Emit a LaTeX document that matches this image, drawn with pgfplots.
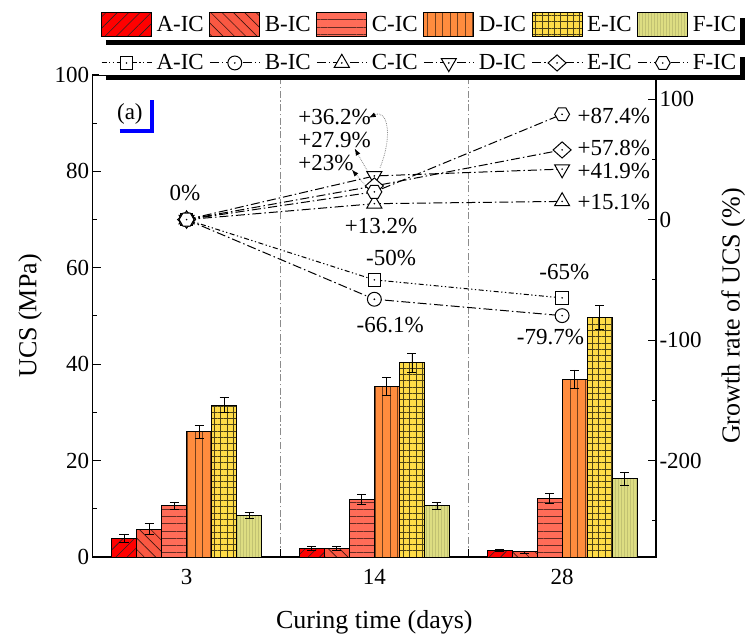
\documentclass[border=0pt]{standalone}
\usepackage{fontspec}
\setmainfont{Liberation Serif}
\usepackage{pgfplots}
\usepackage{pgfplotstable}
\pgfplotsset{compat=1.18}
\usetikzlibrary{patterns,patterns.meta,arrows.meta}

\definecolor{cA}{RGB}{255,0,0}
\definecolor{cB}{RGB}{250,88,66}
\definecolor{cC}{RGB}{255,108,88}
\definecolor{cD}{RGB}{255,140,62}
\definecolor{cE}{RGB}{255,220,72}
\definecolor{cF}{RGB}{221,221,130}

\newcommand\markdot{\begin{pgfscope}\pgfsetfillcolor{black}\pgfpathcircle{\pgfpointorigin}{0.9bp}\pgfusepathqfill\end{pgfscope}}
\pgfdeclareplotmark{dsq}{%
  \pgfpathrectangle{\pgfpoint{-\pgfplotmarksize}{-\pgfplotmarksize}}{\pgfpoint{2\pgfplotmarksize}{2\pgfplotmarksize}}%
  \pgfusepathqfillstroke\markdot}
\pgfdeclareplotmark{dcirc}{%
  \pgfpathcircle{\pgfpointorigin}{1.12\pgfplotmarksize}%
  \pgfusepathqfillstroke\markdot}
\pgfdeclareplotmark{dtri}{%
  \pgfpathmoveto{\pgfpointpolar{90}{1.4\pgfplotmarksize}}%
  \pgfpathlineto{\pgfpointpolar{210}{1.4\pgfplotmarksize}}%
  \pgfpathlineto{\pgfpointpolar{330}{1.4\pgfplotmarksize}}%
  \pgfpathclose\pgfusepathqfillstroke\markdot}
\pgfdeclareplotmark{dtrid}{%
  \pgfpathmoveto{\pgfpointpolar{270}{1.4\pgfplotmarksize}}%
  \pgfpathlineto{\pgfpointpolar{30}{1.4\pgfplotmarksize}}%
  \pgfpathlineto{\pgfpointpolar{150}{1.4\pgfplotmarksize}}%
  \pgfpathclose\pgfusepathqfillstroke\markdot}
\pgfdeclareplotmark{ddia}{%
  \pgfpathmoveto{\pgfpoint{1.45\pgfplotmarksize}{0pt}}%
  \pgfpathlineto{\pgfpoint{0pt}{1.3\pgfplotmarksize}}%
  \pgfpathlineto{\pgfpoint{-1.45\pgfplotmarksize}{0pt}}%
  \pgfpathlineto{\pgfpoint{0pt}{-1.3\pgfplotmarksize}}%
  \pgfpathclose\pgfusepathqfillstroke\markdot}
\pgfdeclareplotmark{dhex}{%
  \pgfpathmoveto{\pgfpointpolar{0}{1.2\pgfplotmarksize}}%
  \pgfpathlineto{\pgfpointpolar{60}{1.2\pgfplotmarksize}}%
  \pgfpathlineto{\pgfpointpolar{120}{1.2\pgfplotmarksize}}%
  \pgfpathlineto{\pgfpointpolar{180}{1.2\pgfplotmarksize}}%
  \pgfpathlineto{\pgfpointpolar{240}{1.2\pgfplotmarksize}}%
  \pgfpathlineto{\pgfpointpolar{300}{1.2\pgfplotmarksize}}%
  \pgfpathclose\pgfusepathqfillstroke\markdot}

% bar positions: group centre 1,2,3; six bars of width 0.1333
\pgfplotstableread{
xA xB xC xD xE xF A Aerr B Berr C Cerr D Derr E Eerr F Ferr
0.6667 0.8 0.9333 1.0667 1.2 1.3333 3.9 0.85 5.8 1.1 10.6 0.8 26.0 1.3 31.5 1.6 8.7 0.6
1.6667 1.8 1.9333 2.0667 2.2 2.3333 1.8 0.35 1.8 0.35 12.0 1.0 35.4 1.8 40.3 2.0 10.6 0.8
2.6667 2.8 2.9333 3.0667 3.2 3.3333 1.3 0.2 1.05 0.2 12.2 1.0 36.9 1.9 49.7 2.4 16.2 1.3
}\bardata

\newcommand\fsN{\fontsize{23bp}{27bp}\selectfont}
\newcommand\fsL{\fontsize{26bp}{30bp}\selectfont}

\pgfplotsset{
  errstyle/.style={error bars/.cd, y dir=both, y explicit,
    error bar style={line width=0.8bp, black, solid},
    error mark options={rotate=90, mark size=4.5bp, line width=0.8bp, black}},
  barsty/.style={ybar, bar width=0.1333, bar shift=0, draw=black, line width=1bp},
  linesty/.style={black, line width=1bp, dash pattern=on 9bp off 3bp on 1.5bp off 3bp},
  mk/.style={mark size=6.2bp, mark options={solid, fill=white, line width=1bp}},
}

\begin{document}
\begin{tikzpicture}
\path[use as bounding box] (-92.7bp,-82bp) rectangle (656.3bp,557bp);
\begin{axis}[
  at={(0,0)}, anchor=south west,
  scale only axis, width=563.3bp, height=482bp,
  xmin=0.5, xmax=3.5, ymin=0, ymax=100,
  font=\fsN,
  /pgf/number format/assume math mode=true,
  axis line style={line width=1.2bp},
  tick style={line width=1bp, black},
  major tick length=8bp, minor tick length=4.5bp,
  xtick={1.5,2.5}, xticklabels={},
  xmajorgrids, major x grid style={black!45, line width=0.8bp, dash pattern=on 7bp off 2.5bp on 1.5bp off 2.5bp},
  extra x ticks={1,2,3}, extra x tick labels={3,14,28},
  extra x tick style={major tick length=0pt, xmajorgrids=false},
  xtick pos=left, ytick pos=left,
  ytick={0,20,40,60,80,100}, minor ytick={10,30,50,70,90},
  xticklabel style={yshift=-9bp},
  xlabel={Curing time (days)}, ylabel={UCS (MPa)},
  every axis x label/.style={at={(axis description cs:0.5,-0.135)}, anchor=center, font=\fsL},
  every axis y label/.style={at={(axis description cs:-0.111,0.5)}, anchor=center, rotate=90, font=\fsL},
  legend style={name=legA, at={(axis description cs:1.149,1.104)}, anchor=east, draw=none, fill=white,
    inner sep=2bp, nodes={inner sep=1.5bp},
    /tikz/every odd column/.append style={column sep=3bp},
    /tikz/every even column/.append style={column sep=4bp}},
  legend columns=6,
  legend image code/.code={\draw[#1] (0bp,-12bp) rectangle (50bp,12bp);},
]
\addplot[barsty, fill=cA,
  postaction={pattern={Lines[angle=45,distance=8bp,line width=0.6bp]}, pattern color=black!85}, errstyle]
  table[x=xA, y=A, y error=Aerr]{\bardata};
\addlegendentry{A-IC}
\addplot[barsty, fill=cB,
  postaction={pattern={Lines[angle=-45,distance=8bp,line width=0.6bp]}, pattern color=black!75!cB}, errstyle]
  table[x=xB, y=B, y error=Berr]{\bardata};
\addlegendentry{B-IC}
\addplot[barsty, fill=cC,
  postaction={pattern={Lines[angle=0,distance=7.2bp,line width=0.6bp]}, pattern color=black!60!cC}, errstyle]
  table[x=xC, y=C, y error=Cerr]{\bardata};
\addlegendentry{C-IC}
\addplot[barsty, fill=cD,
  postaction={pattern={Lines[angle=90,distance=7.5bp,line width=0.6bp]}, pattern color=black!55!cD}, errstyle]
  table[x=xD, y=D, y error=Derr]{\bardata};
\addlegendentry{D-IC}
\addplot[barsty, fill=cE,
  postaction={pattern={Hatch[angle=0,distance=6.3bp,line width=0.6bp]}, pattern color=black!70!cE}, errstyle]
  table[x=xE, y=E, y error=Eerr]{\bardata};
\addlegendentry{E-IC}
\addplot[barsty, fill=cF,
  postaction={pattern={Lines[angle=90,distance=3bp,line width=0.4bp]}, pattern color=black!12!cF}, errstyle]
  table[x=xF, y=F, y error=Ferr]{\bardata};
\addlegendentry{F-IC}
\node[font=\fsN] at (axis cs:0.698,91.9) {(a)};
\draw[blue, line width=4bp] (axis cs:0.644,88.3) -- (axis cs:0.815,88.3) -- (axis cs:0.815,94.8);
\end{axis}

\begin{axis}[
  at={(0,0)}, anchor=south west,
  scale only axis, width=563.3bp, height=482bp,
  xmin=0.5, xmax=3.5, ymin=-280, ymax=120,
  axis x line=none, axis y line*=right,
  font=\fsN,
  /pgf/number format/assume math mode=true,
  axis line style={line width=1.2bp},
  tick style={line width=1bp, black},
  major tick length=8bp, minor tick length=4.5bp,
  ytick={-200,-100,0,100}, minor ytick={-250,-150,-50,50},
  ylabel={Growth rate of UCS (\%)},
  every axis y label/.style={at={(axis description cs:1.137,0.5)}, anchor=center, rotate=90, font=\fsL},
  clip=false,
  legend style={name=legB, at={(axis description cs:1.149,1.025)}, anchor=east, draw=none, fill=white,
    inner sep=2bp, nodes={inner sep=1.5bp},
    /tikz/every odd column/.append style={column sep=3bp},
    /tikz/every even column/.append style={column sep=4bp}},
  legend columns=6,
  legend image code/.code={\draw[mark repeat=2, mark phase=2, #1] plot coordinates {(0bp,0bp) (25bp,0bp) (50bp,0bp)};},
]
\addplot[black, line width=1bp, dash pattern=on 5bp off 2.5bp on 1.3bp off 2.5bp on 1.3bp off 2.5bp, mark=dsq, mk]
  coordinates {(1,0) (2,-50) (3,-65)};
\addlegendentry{A-IC}
\addplot[linesty, mark=dcirc, mk] coordinates {(1,0) (2,-66.1) (3,-79.7)};
\addlegendentry{B-IC}
\addplot[linesty, mark=dtri, mk] coordinates {(1,0) (2,13.2) (3,15.1)};
\addlegendentry{C-IC}
\addplot[linesty, mark=dtrid, mk] coordinates {(1,0) (2,36.2) (3,41.9)};
\addlegendentry{D-IC}
\addplot[linesty, mark=ddia, mk] coordinates {(1,0) (2,27.9) (3,57.8)};
\addlegendentry{E-IC}
\addplot[linesty, mark=dhex, mk] coordinates {(1,0) (2,23) (3,87.4)};
\addlegendentry{F-IC}

\node[font=\fsN] at (axis cs:0.991,22.1) {0\%};
\node[font=\fsN, anchor=west, inner sep=0pt] at (axis cs:1.594,85.1) {+36.2\%};
\node[font=\fsN, anchor=west, inner sep=0pt] at (axis cs:1.594,66.1) {+27.9\%};
\node[font=\fsN, anchor=west, inner sep=0pt] at (axis cs:1.594,47.0) {+23\%};
\node[font=\fsN] at (axis cs:2.036,-5.3) {+13.2\%};
\node[font=\fsN] at (axis cs:2.089,-31.9) {-50\%};
\node[font=\fsN] at (axis cs:2.084,-87.6) {-66.1\%};
\node[font=\fsN] at (axis cs:3.012,-43.5) {-65\%};
\node[font=\fsN] at (axis cs:2.938,-97.4) {-79.7\%};
\node[font=\fsN, anchor=west, inner sep=0pt] at (axis cs:3.082,85.9) {+87.4\%};
\node[font=\fsN, anchor=west, inner sep=0pt] at (axis cs:3.082,59.0) {+57.8\%};
\node[font=\fsN, anchor=west, inner sep=0pt] at (axis cs:3.082,40.3) {+41.9\%};
\node[font=\fsN, anchor=west, inner sep=0pt] at (axis cs:3.082,15.0) {+15.1\%};

\draw[black!45, densely dotted, line width=0.8bp, -{Latex[color=black,length=7bp,width=5bp]}]
  (axis cs:2.03,43) .. controls (axis cs:2.10,70) and (axis cs:2.07,92) .. (axis cs:1.97,84.5);
\draw[black!45, densely dotted, line width=0.8bp, -{Latex[color=black,length=7bp,width=5bp]}]
  (axis cs:1.99,33) -- (axis cs:1.895,59);
\draw[black!45, densely dotted, line width=0.8bp, -{Latex[color=black,length=7bp,width=5bp]}]
  (axis cs:1.965,26) -- (axis cs:1.88,41.5);
\end{axis}

\draw[line width=5bp] ([xshift=7bp,yshift=-2.5bp]legA.south west) -- ([xshift=2.5bp,yshift=-2.5bp]legA.south east) -- ([xshift=2.5bp,yshift=-8bp]legA.north east);
\draw[line width=5bp] ([xshift=7bp,yshift=-2.5bp]legB.south west) -- ([xshift=2.5bp,yshift=-2.5bp]legB.south east) -- ([xshift=2.5bp,yshift=-6bp]legB.north east);
\end{tikzpicture}
\end{document}
